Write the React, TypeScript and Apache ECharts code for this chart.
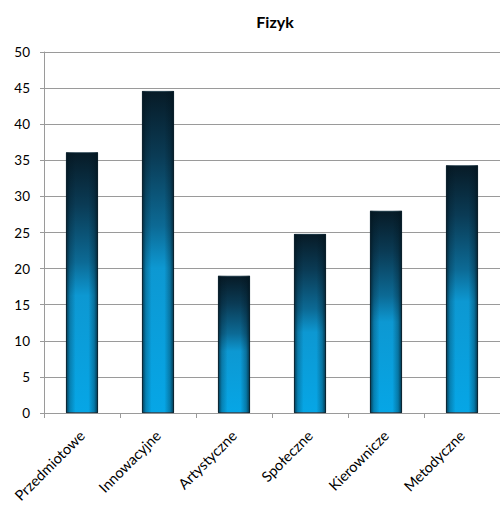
import React, { useEffect, useRef } from "react";
import * as echarts from "echarts";

const categories = ["Przedmiotowe", "Innowacyjne", "Artystyczne", "Społeczne", "Kierownicze", "Metodyczne"];
const values = [36.1, 44.6, 19, 24.8, 28, 34.3];
const yTicks = { min: 0, max: 50, interval: 5 };
const title = "Fizyk";

export default function App() {
  const ref = useRef<HTMLDivElement>(null);
  useEffect(() => {
    if (!ref.current) return;
    const chart = echarts.init(ref.current, undefined, { renderer: "svg" });
    const font = "Lato, 'Open Sans', sans-serif";
    chart.setOption({
      animation: false,
      title: {
        text: title,
        left: 270,
        textAlign: "center",
        top: 8,
        textStyle: { fontFamily: font, fontSize: 16, fontWeight: "bold", color: "#000" },
      },
      grid: { left: 44, right: 0, top: 52, bottom: 94 },
      xAxis: {
        type: "category",
        data: categories,
        axisLine: { lineStyle: { color: "#9a9a9a", width: 1 } },
        axisTick: { show: true, length: 5, lineStyle: { color: "#9a9a9a" } },
        axisLabel: { rotate: 45, fontFamily: font, fontSize: 14.5, color: "#000", margin: 20, interval: 0 },
      },
      yAxis: {
        type: "value",
        min: yTicks.min,
        max: yTicks.max,
        interval: yTicks.interval,
        axisLine: { show: true, lineStyle: { color: "#9a9a9a", width: 1 } },
        axisTick: { show: true, length: 4, lineStyle: { color: "#9a9a9a" } },
        axisLabel: { fontFamily: font, fontSize: 13.5, color: "#000", margin: 14 },
        splitLine: { lineStyle: { color: "#9a9a9a", width: 1 } },
      },
      series: [
        {
          type: "bar",
          data: values,
          barWidth: 32,
          itemStyle: {
            borderColor: "#0a2a3a",
            borderWidth: 0.8,
            color: new echarts.graphic.LinearGradient(0, 0, 0, 1, [
              { offset: 0, color: "#071b27" },
              { offset: 0.2, color: "#0a3b55" },
              { offset: 0.42, color: "#0c6a95" },
              { offset: 0.55, color: "#0d98d2" },
              { offset: 1, color: "#06a6e6" },
            ]),
          },
        },
        {
          type: "bar",
          data: values,
          barWidth: 32,
          barGap: "-100%",
          silent: true,
          itemStyle: {
            color: new echarts.graphic.LinearGradient(0, 0, 1, 0, [
              { offset: 0, color: "rgba(2,20,30,0.75)" },
              { offset: 0.12, color: "rgba(2,20,30,0.25)" },
              { offset: 0.3, color: "rgba(2,20,30,0)" },
              { offset: 0.7, color: "rgba(2,20,30,0)" },
              { offset: 0.88, color: "rgba(2,20,30,0.3)" },
              { offset: 1, color: "rgba(2,20,30,0.8)" },
            ]),
          },
        },
      ],
    });
    return () => chart.dispose();
  }, []);
  return <div ref={ref} style={{ position: "absolute", left: 0, top: 0, width: 500, height: 507 }} />;
}
